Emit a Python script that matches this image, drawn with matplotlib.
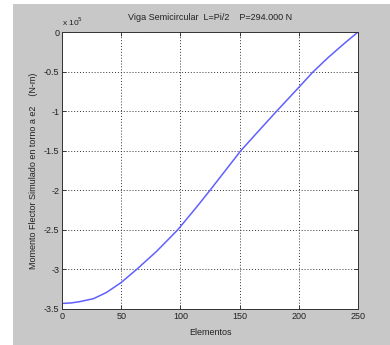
import matplotlib
matplotlib.use("Agg")
import matplotlib.pyplot as plt
from matplotlib.patches import Rectangle

# datos (momento en unidades de 1e5 N-m)
elementos = [0, 8, 15, 26.5, 37.7, 50, 63, 80, 97.7, 113.8, 125, 138, 151,
             167, 181.3, 197, 212.3, 225, 238, 250]
momento = [-3.43, -3.423, -3.407, -3.37, -3.29, -3.165, -3.00, -2.77, -2.50,
           -2.21, -2.00, -1.75, -1.50, -1.235, -1.00, -0.748, -0.50, -0.32,
           -0.15, 0.0]
x_ticks = [0, 50, 100, 150, 200, 250]
y_ticks = [0, -0.5, -1, -1.5, -2, -2.5, -3, -3.5]
y_labels = ["0", "-0.5", "-1", "-1.5", "-2", "-2.5", "-3", "-3.5"]

W, H = 390, 345
plt.rcParams["font.family"] = ["Liberation Sans", "DejaVu Sans"]

fig = plt.figure(figsize=(W / 100, H / 100), dpi=100, facecolor="white")
# fondo gris estilo MATLAB con borde blanco a la izquierda y arriba
fig.patches.append(Rectangle((13 / W, 0), 1 - 13 / W, 1 - 4 / H,
                             transform=fig.transFigure, facecolor="#c8c8c8",
                             edgecolor="none", zorder=-10))

ax = fig.add_axes([62 / W, 1 - 309 / H, 296 / W, 277 / H])
ax.set_facecolor("white")
ax.plot(elementos, momento, color="#6060ff", lw=1.1)

ax.set_xlim(0, 250)
ax.set_ylim(-3.5, 0)
ax.set_xticks(x_ticks)
ax.set_yticks(y_ticks)
ax.set_yticklabels(y_labels)
ax.tick_params(direction="in", length=3, width=0.6, labelsize=6.5,
               top=True, right=True, pad=2, colors="#222222")
ax.grid(True, color="#333333", linestyle=(0, (1, 2)), linewidth=0.7)
for s in ax.spines.values():
    s.set_linewidth(0.7)
    s.set_color("#333333")

ax.set_title("Viga Semicircular  L=Pi/2    P=294.000 N", fontsize=6.5, pad=9,
             color="#222222")
ax.set_xlabel("Elementos", fontsize=6.5, labelpad=5, color="#222222")
ax.set_ylabel("Momento Flector Simulado en torno a e2    (N-m)", fontsize=6.5,
              labelpad=4, color="#222222")
ax.text(0.0, 1.015, r"x 10$^5$", transform=ax.transAxes, fontsize=6,
        ha="left", va="bottom", color="#222222")

fig.savefig("out.png", dpi=100, facecolor=fig.get_facecolor())
